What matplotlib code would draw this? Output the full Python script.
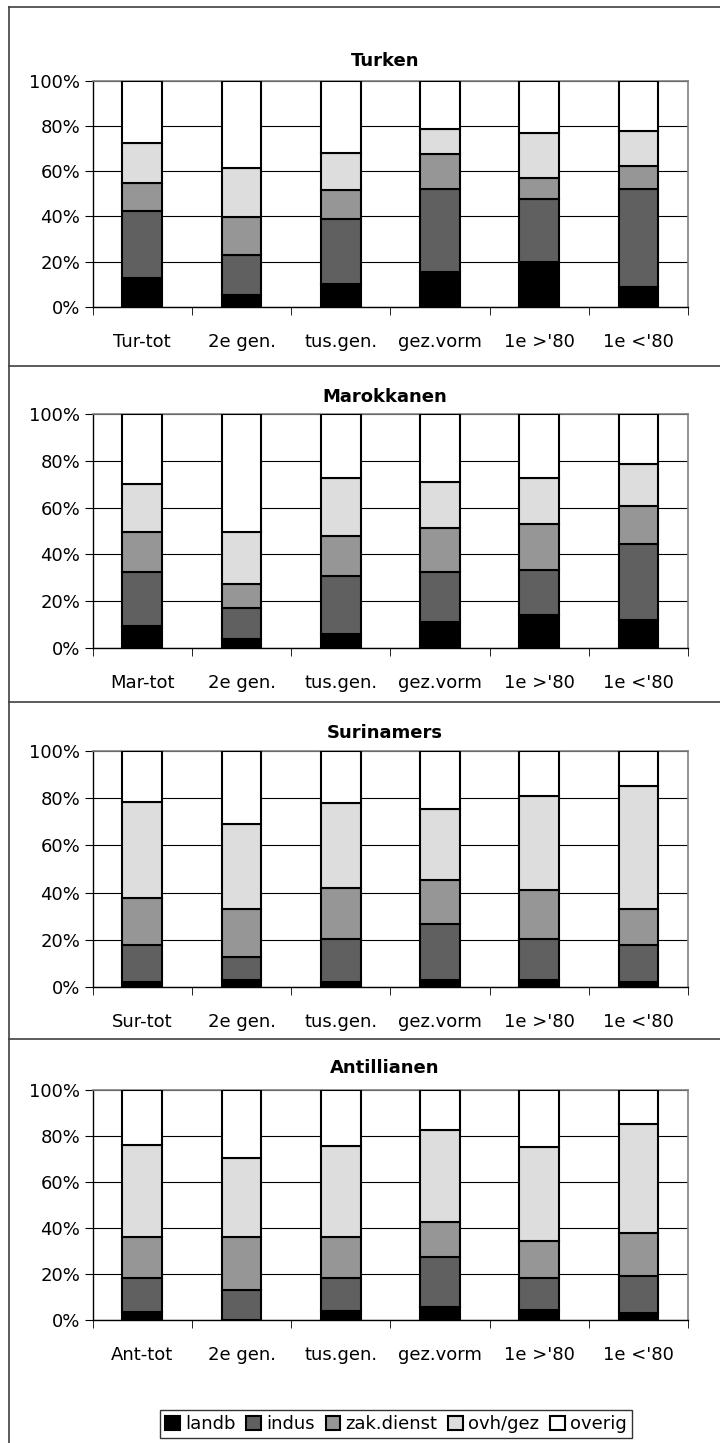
import numpy as np
import matplotlib.pyplot as plt
from matplotlib.patches import Patch
from matplotlib.lines import Line2D

plt.rcParams['font.family'] = ['DejaVu Sans']

# categorieen (eerste label verschilt per groep)
cats = ['2e gen.', 'tus.gen.', 'gez.vorm', "1e >'80", "1e <'80"]
sectoren = ['landb', 'indus', 'zak.dienst', 'ovh/gez', 'overig']
kleuren = ['#000000', '#606060', '#969696', '#dddddd', '#ffffff']

# Turken (%)
tur_landb = [12.6, 5.3, 10.3, 15.3, 19.7, 8.8]
tur_indus = [30.0, 17.6, 28.8, 36.8, 28.2, 43.3]
tur_zak = [12.4, 16.8, 12.7, 15.5, 8.9, 10.0]
tur_ovh = [17.4, 21.8, 16.4, 11.2, 20.0, 15.8]
tur_overig = [27.6, 38.5, 31.8, 21.2, 23.2, 22.1]

# Marokkanen (%)
mar_landb = [9.5, 3.8, 6.1, 11.3, 14.1, 12.1]
mar_indus = [22.8, 13.2, 24.5, 21.0, 19.1, 32.2]
mar_zak = [17.1, 10.2, 17.1, 18.8, 19.6, 16.2]
mar_ovh = [20.5, 22.2, 24.8, 19.7, 19.7, 18.0]
mar_overig = [30.1, 50.6, 27.5, 29.2, 27.5, 21.5]

# Surinamers (%)
sur_landb = [2.0, 2.8, 2.0, 2.8, 2.8, 2.0]
sur_indus = [15.9, 10.0, 18.5, 23.7, 17.7, 15.9]
sur_zak = [19.7, 20.2, 21.4, 18.8, 20.5, 15.1]
sur_ovh = [41.0, 36.2, 35.9, 30.2, 39.9, 52.2]
sur_overig = [21.4, 30.8, 22.2, 24.5, 19.1, 14.8]

# Antillianen (%)
ant_landb = [3.5, 0.0, 4.0, 5.5, 4.3, 2.9]
ant_indus = [14.6, 12.9, 14.1, 22.1, 13.8, 16.4]
ant_zak = [18.2, 23.1, 18.2, 15.0, 16.4, 18.7]
ant_ovh = [40.0, 34.5, 39.4, 40.0, 40.9, 47.2]
ant_overig = [23.7, 29.5, 24.3, 17.4, 24.6, 14.8]

groepen = [
    ('Turken', 'Tur-tot', [tur_landb, tur_indus, tur_zak, tur_ovh, tur_overig]),
    ('Marokkanen', 'Mar-tot', [mar_landb, mar_indus, mar_zak, mar_ovh, mar_overig]),
    ('Surinamers', 'Sur-tot', [sur_landb, sur_indus, sur_zak, sur_ovh, sur_overig]),
    ('Antillianen', 'Ant-tot', [ant_landb, ant_indus, ant_zak, ant_ovh, ant_overig]),
]

W, H = 720, 1443
fig = plt.figure(figsize=(W / 100, H / 100), dpi=100)

# pixel posities (boven, onder) van de plotgebieden
panels = [(80.7, 307), (414, 648), (751, 987), (1090, 1320)]
titel_y = [61, 397, 733, 1068]
x0, x1 = 92.7, 688

for (naam, tot, reeksen), (top, bot), ty in zip(groepen, panels, titel_y):
    ax = fig.add_axes([x0 / W, 1 - bot / H, (x1 - x0) / W, (bot - top) / H])
    x = np.arange(6)
    bottom = np.zeros(6)
    for vals, kl in zip(reeksen, kleuren):
        ax.bar(x, vals, 0.4, bottom=bottom, color=kl, edgecolor='black', linewidth=1.5, zorder=3)
        bottom += np.array(vals)
    ax.set_xlim(-0.5, 5.5)
    ax.set_ylim(0, 100)
    ax.set_yticks([0, 20, 40, 60, 80, 100])
    ax.set_yticklabels(['0%', '20%', '40%', '60%', '80%', '100%'], fontsize=13)
    ax.set_xticks(x)
    ax.set_xticklabels([tot] + cats, fontsize=13)
    ax.set_xticks(np.arange(7) - 0.5, minor=True)
    ax.tick_params(axis='x', which='major', length=0, pad=19)
    ax.tick_params(axis='x', which='minor', length=6, direction='out', color='black')
    ax.tick_params(axis='y', length=6, direction='out', pad=3)
    ax.grid(axis='y', color='black', linewidth=0.8, zorder=0)
    for s in ['top', 'right']:
        ax.spines[s].set_color('#808080')
        ax.spines[s].set_linewidth(1.2)
    for s in ['left', 'bottom']:
        ax.spines[s].set_color('black')
        ax.spines[s].set_linewidth(1.0)
    fig.text(385 / W, 1 - ty / H, naam, ha='center', va='center', fontsize=13, fontweight='bold')

# kader rond de grafieken
for y in [7, 366, 702, 1039]:
    fig.add_artist(Line2D([9 / W, 1], [1 - y / H, 1 - y / H], color='#404040', linewidth=1.2))
fig.add_artist(Line2D([9 / W, 9 / W], [0, 1 - 7 / H], color='#404040', linewidth=1.2))

handles = [Patch(facecolor=k, edgecolor='black', linewidth=1.5) for k in kleuren]
leg = fig.legend(handles, sectoren, loc='center', bbox_to_anchor=(396 / W, 1 - 1424 / H),
                 ncol=5, fontsize=13, frameon=True, fancybox=False, edgecolor='black',
                 handlelength=0.8, handleheight=0.8, handletextpad=0.3, columnspacing=0.6,
                 borderpad=0.3)
leg.get_frame().set_linewidth(1.0)

fig.savefig('out.png', dpi=100)
